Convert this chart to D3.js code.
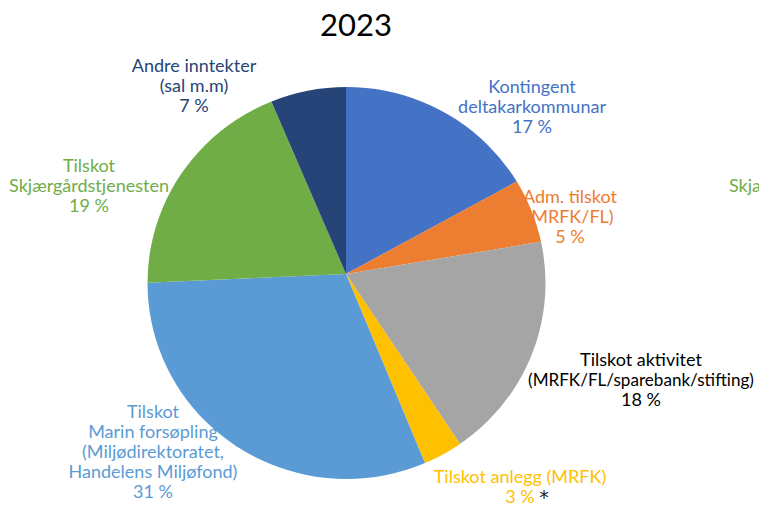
<!DOCTYPE html>
<html>
<head>
<meta charset="utf-8">
<script src="https://cdn.jsdelivr.net/npm/d3@7"></script>
<style>
  html, body { margin: 0; padding: 0; background: #fff; overflow: hidden; }
  svg text { font-family: Lato, "Open Sans", sans-serif; }
</style>
</head>
<body>
<div id="chart"></div>
<script>
// values (share of total, in %)
const categories = ["Kontingent", "Adm", "Aktivitet", "Anlegg", "Marin", "Skjaergard", "Andre"];
const values = [17.1, 5.3, 18.2, 3.1, 30.6, 19.2, 6.5];
const colors = ["#4472C4", "#ED7D31", "#A5A5A5", "#FFC000", "#5B9BD5", "#70AD47", "#264478"];
const labelLines = [
  ["Kontingent", "deltakarkommunar"],
  ["Adm. tilskot", "(MRFK/FL)"],
  ["Tilskot aktivitet", "(MRFK/FL/sparebank/stifting)"],
  ["Tilskot anlegg (MRFK)"],
  ["Tilskot", "Marin forsøpling", "(Miljødirektoratet,", "Handelens Miljøfond)"],
  ["Tilskot", "Skjærgårdstjenesten"],
  ["Andre inntekter", "(sal m.m)"]
];
const labelColors = ["#4472C4", "#ED7D31", "#000000", "#FFC000", "#5B9BD5", "#70AD47", "#264478"];
// label anchor: centre x, baseline of first line
const labelPos = [[532, 93], [570, 203], [641, 366], [520, 483], [153, 418], [89, 172], [194, 72]];

const width = 759, height = 506;
const svg = d3.select("#chart").append("svg")
    .attr("width", width).attr("height", height)
    .attr("viewBox", [0, 0, width, height]);

svg.append("text")
    .attr("x", 356).attr("y", 36)
    .attr("text-anchor", "middle")
    .style("font-size", "31px")
    .style("fill", "#000")
    .text("2023");

// pie: slices meet at (346,274), outline is a slightly oval disc
const pie = d3.pie().sort(null).value(d => d.v);
const arcs = pie(values.map((v, i) => ({v: v, i: i})));
const arc = d3.arc().innerRadius(0).outerRadius(260);

svg.append("clipPath").attr("id", "disc")
  .append("ellipse")
    .attr("cx", 346.5).attr("cy", 283)
    .attr("rx", 199).attr("ry", 196);

svg.append("g")
    .attr("clip-path", "url(#disc)")
  .append("g")
    .attr("transform", "translate(346,274)")
  .selectAll("path")
  .data(arcs)
  .join("path")
    .attr("d", arc)
    .attr("fill", d => colors[d.data.i]);

// labels
const lineH = 20;
const lab = svg.append("g");
labelLines.forEach((lines, i) => {
  const t = lab.append("text")
      .attr("text-anchor", "middle")
      .style("font-size", "18px")
      .style("fill", labelColors[i]);
  const all = lines.concat([Math.round(values[i]) + " %"]);
  all.forEach((s, j) => {
    const ts = t.append("tspan")
        .attr("x", labelPos[i][0])
        .attr("y", labelPos[i][1] + j * lineH)
        .text(s);
    // long line is a bit narrower in the original font
    if (s.length > 24) ts.style("font-size", "17.1px");
  });
});

// footnote star after "3 %"
lab.append("text")
    .attr("x", 544).attr("y", 504)
    .attr("text-anchor", "middle")
    .style("font-family", "'DejaVu Sans', sans-serif")
    .style("font-size", "19px")
    .style("fill", "#222")
    .text("*");

// cut off label of the next chart at the right border
lab.append("text")
    .attr("x", 729).attr("y", 192)
    .style("font-size", "18px")
    .style("fill", "#70AD47")
    .text("Skjærgårdstjenesten");
</script>
</body>
</html>
